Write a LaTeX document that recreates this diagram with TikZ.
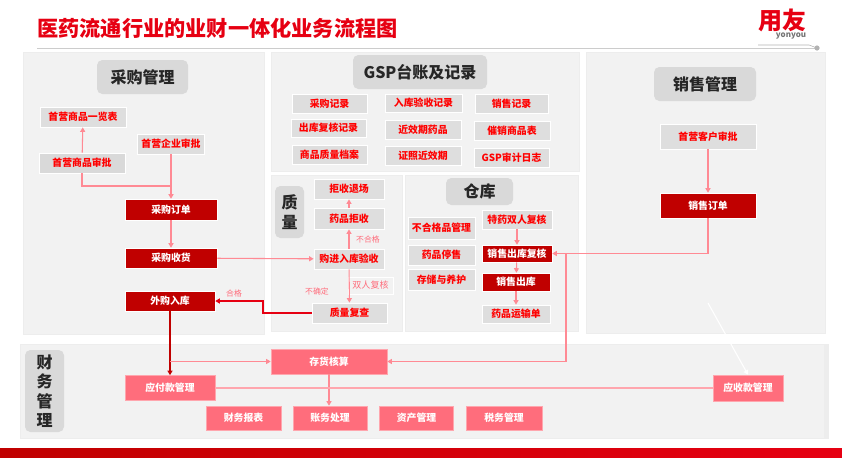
\documentclass[tikz,border=0pt]{standalone}
\usepackage{fontspec}
\setmainfont{Noto Sans CJK SC}
\usetikzlibrary{arrows.meta}

\definecolor{panelgray}{HTML}{F2F2F2}
\definecolor{paneledge}{HTML}{EDEDED}
\definecolor{headgray}{HTML}{D9D9D9}
\definecolor{itemgray}{HTML}{DEDEDE}
\definecolor{darkred}{HTML}{C00000}
\definecolor{brandred}{HTML}{E60012}
\definecolor{pinkbox}{HTML}{FF6D7C}
\definecolor{pinkline}{HTML}{FF8A94}
\definecolor{paleline}{HTML}{FFA6AE}

\tikzset{
  sized/.style n args={2}{minimum width=#1*0.75pt, minimum height=#2*0.75pt},
  panel/.style={fill=panelgray, draw=paneledge, line width=0.6pt},
  heading/.style={fill=headgray, rounded corners=4pt, inner sep=0pt, text=black!85, font=\bfseries\fontsize{12}{15}\selectfont, align=center},
  lightbox/.style={fill=itemgray, draw=white, line width=0.6pt, inner sep=0pt, text=red, font=\bfseries\fontsize{7.4}{9}\selectfont},
  darkbox/.style={fill=darkred, draw=white, line width=0.4pt, inner sep=0pt, text=white, font=\bfseries\fontsize{7.4}{9}\selectfont},
  pinkbox/.style={fill=pinkbox, draw=paleline, line width=0.5pt, inner sep=0pt, text=white, font=\bfseries\fontsize{7.4}{9}\selectfont},
  tag/.style={inner sep=0pt, text=pinkbox, font=\fontsize{5.9}{7}\selectfont},
  flow/.style={draw=pinkline, line width=0.8pt, -{Triangle[length=3.4pt, width=3.8pt]}},
  flowplain/.style={draw=pinkline, line width=0.8pt},
}

\begin{document}
\begin{tikzpicture}[x=0.75pt, y=-0.75pt]

\useasboundingbox (0,0) rectangle (842,457);

% panels
\filldraw[panel] (23,52) rectangle (264,334);
\filldraw[panel] (271,52) rectangle (579,171);
\filldraw[panel] (271,175) rectangle (402,331);
\filldraw[panel] (405,175) rectangle (578,331);
\filldraw[panel] (586,52) rectangle (825,333);
\filldraw[panel] (20,344) rectangle (828,438);
\fill[paneledge] (824,344) rectangle (829,438);

\shade[left color=darkred, middle color=red!85!darkred, right color=brandred] (0,448) rectangle (842,457);

% title and logo
\node[anchor=west, inner sep=0pt, text=brandred, font=\bfseries\fontsize{15.9}{18}\selectfont] (title) at (37,28) {医药流通行业的业财一体化业务流程图};
\node[inner sep=0pt, text=brandred, font=\bfseries\fontsize{18}{20}\selectfont] (logo) at (782.5,20) {用友};
\node[inner sep=0pt, text=black!55, font=\bfseries\fontsize{6}{7}\selectfont] (logosub) at (791,36) {yonyou};

\coordinate (ruleleft) at (37,48);
\coordinate (ruleend) at (817,48);
\draw[black!20, line width=0.7pt] (ruleleft) -- (ruleend);
\draw[black!30, line width=0.4pt] (758,45) -- (809,45) -- (ruleend);
\filldraw[black!30] (ruleend) circle (1.7pt);

% headings
\node[heading, sized={91}{34}] (buyhead) at (142.5,77) {采购管理};
\node[heading, sized={134}{34}] (gsphead) at (420,72) {GSP台账及记录};
\node[heading, sized={102}{34}] (salehead) at (705,84) {销售管理};
\node[heading, sized={29}{52}] (qualityhead) at (289.5,212) {质\\量};
\node[heading, sized={67}{27}] (storehead) at (479.5,191.5) {仓库};
\node[heading, sized={39}{82}, font=\bfseries\fontsize{12}{14.6}\selectfont] (financehead) at (44.5,391) {财\\务\\管\\理};

% purchasing
\node[lightbox, sized={86}{20}] (goodslist) at (83,117) {首营商品一览表};
\node[lightbox, sized={86}{20}, fill=headgray] (goodsaudit) at (82,163) {首营商品审批};
\node[lightbox, sized={67}{20}] (firmaudit) at (171,144) {首营企业审批};
\node[darkbox, sized={92}{21}] (buyorder) at (171,209.5) {采购订单};
\node[darkbox, sized={92}{20}] (buyreceive) at (171,258) {采购收货};
\node[darkbox, sized={90}{20}] (buyin) at (170,301) {外购入库};
\node[tag] (passtag) at (234,293) {合格};

% ledger
\node[lightbox, sized={75}{19}] (buyrec) at (329.5,103.5) {采购记录};
\node[lightbox, sized={77}{18}] (inrec) at (423.5,103) {入库验收记录};
\node[lightbox, sized={73}{19}] (salerec) at (511.5,103.5) {销售记录};
\node[lightbox, sized={75}{18}] (outrec) at (328.5,128) {出库复核记录};
\node[lightbox, sized={76}{19}] (neargoods) at (423,129.5) {近效期药品};
\node[lightbox, sized={76}{19}] (promote) at (512,130.5) {催销商品表};
\node[lightbox, sized={75}{19}] (qualityfile) at (329.5,154.5) {商品质量档案};
\node[lightbox, sized={76}{19}] (nearcert) at (423,155.5) {证照近效期};
\node[lightbox, sized={75}{19}] (gsplog) at (511.5,157.5) {GSP审计日志};

% quality
\node[lightbox, sized={70}{20}] (rejectout) at (349,189) {拒收退场};
\node[lightbox, sized={70}{21}] (reject) at (349,218.5) {药品拒收};
\node[lightbox, sized={70}{20}] (incheck) at (349,259) {购进入库验收};
\node[lightbox, sized={75}{20}] (recheck) at (349.5,313) {质量复查};
\node[tag] (failtag) at (368,239) {不合格};
\node[tag] (unsuretag) at (317,291) {不确定};
\node[inner sep=0pt, fill=panelgray, draw=white, line width=0.5pt, sized={45}{17}, text=pinkbox, font=\fontsize{6.8}{8}\selectfont] (twotag) at (370.5,285.5) {双人复核};

% warehouse
\node[lightbox, sized={67}{22}] (badgoods) at (441.5,228) {不合格品管理};
\node[lightbox, sized={67}{20}] (stopsale) at (441.5,255) {药品停售};
\node[lightbox, sized={67}{21}] (keeping) at (441.5,279.5) {存储与养护};
\node[lightbox, sized={70}{19}] (specialcheck) at (517,219.5) {特药双人复核};
\node[darkbox, sized={70}{17}] (outcheck) at (517,253.5) {销售出库复核};
\node[darkbox, sized={68}{18}] (saleout) at (516,282) {销售出库};
\node[lightbox, sized={68}{18}] (waybill) at (516,314) {药品运输单};

% sales
\node[lightbox, sized={96}{25}] (clientaudit) at (708,136.5) {首营客户审批};
\node[darkbox, sized={96}{25}] (saleorder) at (708,205.5) {销售订单};

% finance
\node[pinkbox, sized={116}{25}] (stock) at (329,361.5) {存货核算};
\node[pinkbox, sized={90}{25}] (payable) at (170,388) {应付款管理};
\node[pinkbox, sized={70}{26}] (receivable) at (748,388) {应收款管理};
\node[pinkbox, sized={75}{24}] (report) at (243.5,418) {财务报表};
\node[pinkbox, sized={74}{24}] (account) at (330,418) {账务处理};
\node[pinkbox, sized={74}{24}] (asset) at (416.5,418) {资产管理};
\node[pinkbox, sized={76}{24}] (tax) at (504,418) {税务管理};

% connectors
\coordinate (buymerge) at (171,186);
\coordinate (paybranch) at (170,361.5);
\coordinate (stockline) at (566,253.5);
\coordinate (recheckbend) at (263,301);
\coordinate (whitestart) at (708,303);

\draw[flow] (goodsaudit) -- (goodslist);
\draw[flowplain] (goodsaudit.south) |- (buymerge);
\draw[flow] (firmaudit) -- (buyorder);
\draw[flow] (buyorder) -- (buyreceive);
\draw[flow] (buyreceive) -- (incheck);
\draw[flow] (incheck) -- (reject);
\draw[flow] (reject) -- (rejectout);
\draw[flow] (incheck) -- (recheck);
\draw[flow, draw=brandred] (recheck.west) -| (recheckbend) -- (buyin.east);
\draw[flow, draw=darkred] (buyin) -- (payable);
\draw[flow] (paybranch) -- (stock.west);
\draw[flow] (specialcheck) -- (outcheck);
\draw[flow] (outcheck) -- (saleout);
\draw[flow] (saleout) -- (waybill);
\draw[flow] (clientaudit) -- (saleorder);
\draw[flow] (saleorder.south) |- (outcheck.east);
\draw[flow] (stockline) |- (stock.east);
\draw[flow] (stock.south) -- (stock.south |- account.north);
\draw[paleline, line width=0.8pt] (payable.east) -- (receivable.west);
\draw[flow, draw=white] (whitestart) -- (receivable.north);

\end{tikzpicture}
\end{document}
